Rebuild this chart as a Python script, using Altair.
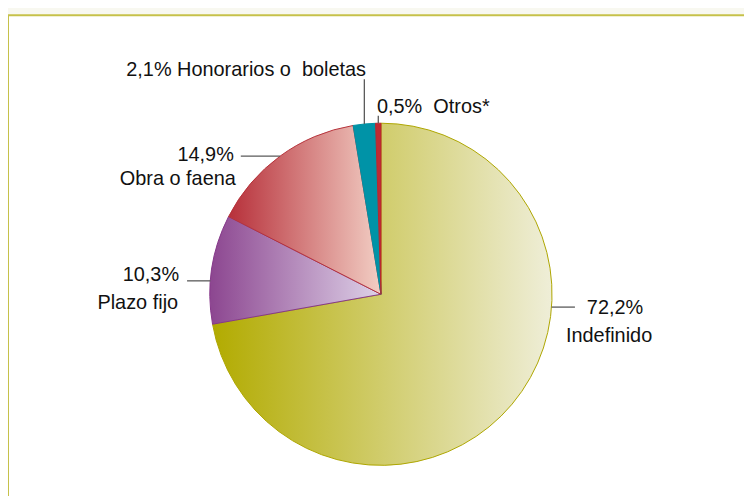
import math
import altair as alt
import pandas as pd

# ---- data ----
categories = ["Indefinido", "Plazo fijo", "Obra o faena", "Honorarios o  boletas", "Otros*"]
values = [72.2, 10.3, 14.9, 2.1, 0.5]
value_labels = ["72,2%", "10,3%", "14,9%", "2,1%", "0,5%"]

# ---- geometry / style ----
W, H = 740, 488
CX, CY, R = 375, 286.5, 172
FONT = "Liberation Sans"
FS = 20
NB = "\u00a0"

def grad(c0, c1):
    return alt.LinearGradient(
        gradient="linear",
        stops=[alt.GradientStop(offset=0, color=c0), alt.GradientStop(offset=1, color=c1)],
        x1=0, x2=1, y1=0, y2=0,
    )

styles = {
    "Indefinido": dict(fill=grad("#B2AB00", "#EFEED8"), stroke="#ADA500"),
    "Plazo fijo": dict(fill=grad("#8C4690", "#DED2E8"), stroke="#86388A"),
    "Obra o faena": dict(fill=grad("#B7303A", "#F2CEC4"), stroke="#B5323A"),
    "Honorarios o  boletas": dict(fill="#0093A7", stroke="#0090A2"),
    "Otros*": dict(fill="#BE2B33", stroke="#B7272F"),
}

# cumulative start/end (percent) for each slice
starts, ends, acc = [], [], 0.0
for v in values:
    starts.append(acc)
    acc += v
    ends.append(acc)
total = acc

df = pd.DataFrame({"category": categories, "value": values, "start": starts, "end": ends})

theta_scale = alt.Scale(domain=[0, total], range=[0, 2 * math.pi])

# ---- annotation layout: anchor angle on the circle (None = slice middle),
# leader direction & length, and text offsets from the leader end ----
layout = {
    "Indefinido": dict(anchor=94.3, d=(1, 0), L=23.5,
                       texts=[("value", 12, 6.6, "left"), ("name", -9, 34.6, "left")]),
    "Plazo fijo": dict(anchor=274.5, d=(-1, 0), L=23.5,
                       texts=[("value", -8, 0, "right"), ("name", -9, 28, "right")]),
    "Obra o faena": dict(anchor=None, d=(-1, 0), L=39.4,
                         texts=[("value", -7, 5, "right"), ("name", -5, 29, "right")]),
    "Honorarios o  boletas": dict(anchor=None, d=(0, -1), L=45,
                                  texts=[("both", 1.7, -3, "right")]),
    "Otros*": dict(anchor=None, d=(0, -1), L=7.5,
                   texts=[("both2", -1.3, -3, "left")]),
}

lines, texts = [], []
for cat, val, lab, s, e in zip(categories, values, value_labels, starts, ends):
    lo = layout[cat]
    ang = lo["anchor"] if lo["anchor"] is not None else (s + e) / 2 / total * 360
    a = math.radians(ang)
    x0, y0 = CX + R * math.sin(a), CY - R * math.cos(a)
    x1, y1 = x0 + lo["d"][0] * lo["L"], y0 + lo["d"][1] * lo["L"]
    lines.append(dict(x=x0, y=y0, x2=x1, y2=y1))
    name = cat.replace("  ", " " + NB)
    for kind, dx, dy, al in lo["texts"]:
        if kind == "value":
            t = lab
        elif kind == "name":
            t = name
        elif kind == "both":
            t = f"{lab} {name}"
        else:
            t = f"{lab}{NB} {name}"
        texts.append(dict(x=x1 + dx, y=y1 + dy, text=t, align=al))

lines_df = pd.DataFrame(lines)
texts_df = pd.DataFrame(texts)

# ---- chart ----
frame = alt.Chart(pd.DataFrame({"k": [0]})).mark_rect(
    fill="white", stroke="#C6C14A", strokeWidth=2
).encode(x=alt.value(0), x2=alt.value(W + 10), y=alt.value(6), y2=alt.value(H + 10))

slices = []
for cat in categories:
    st = styles[cat]
    slices.append(
        alt.Chart(df)
        .transform_filter(alt.datum.category == cat)
        .mark_arc(radius=R, fill=st["fill"], stroke=st["stroke"], strokeWidth=1)
        .encode(
            theta=alt.Theta("start:Q", scale=theta_scale),
            theta2="end:Q",
            x=alt.value(CX),
            y=alt.value(CY),
        )
    )

leaders = alt.Chart(lines_df).mark_rule(color="#5A5A5A", strokeWidth=1.3).encode(
    x=alt.X("x:Q", scale=None),
    y=alt.Y("y:Q", scale=None),
    x2="x2:Q",
    y2="y2:Q",
)

text_layers = []
for al in ["left", "right"]:
    text_layers.append(
        alt.Chart(texts_df)
        .transform_filter(alt.datum.align == al)
        .mark_text(align=al, baseline="alphabetic", font=FONT, fontSize=FS, color="#111111")
        .encode(x=alt.X("x:Q", scale=None), y=alt.Y("y:Q", scale=None), text="text:N")
    )

chart = (
    alt.layer(frame, *slices, leaders, *text_layers)
    .properties(
        width=W, height=H, padding=0, background="#F8F8F0",
        autosize=alt.AutoSizeParams(type="none"),
    )
    .configure_view(stroke=None)
)

chart.save("out.html", embed_options={"renderer": "svg", "actions": False})
